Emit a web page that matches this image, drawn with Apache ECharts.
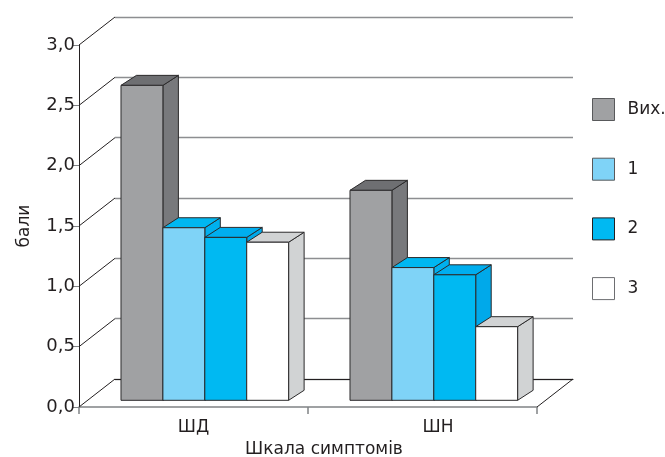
<!DOCTYPE html>
<html>
<head>
<meta charset="utf-8">
<script src="https://cdn.jsdelivr.net/npm/echarts@6/dist/echarts.min.js"></script>
<style>
  html, body { margin: 0; padding: 0; background: #fff; }
  #chart { width: 665px; height: 457px; }
</style>
</head>
<body>
<div id="chart"></div>
<script>
// Data
const categories = ['ШД', 'ШН'];
const seriesNames = ['Вих.', '1', '2', '3'];
const valuesVyh = [2.61, 1.74];
const values1 = [1.43, 1.10];
const values2 = [1.35, 1.04];
const values3 = [1.31, 0.61];
const yTicks = [0, 0.5, 1, 1.5, 2, 2.5, 3];

// Pseudo-3D geometry (pixels)
const WALL_DX = 36, WALL_DY = -28;      // depth of the back wall
const BAR_SHIFT_X = 11.3, BAR_SHIFT_Y = -6.7; // bars sit slightly behind the front plane
const BAR_DX = 15.5, BAR_DY = -10;      // depth of each bar
const BAR_FRACTION = 0.183;             // bar width as share of category band
const OUTLINE = '#2b2a2b';
const FONT = 'DejaVu Sans';

const palettes = [
  { front: '#a0a1a3', top: '#6e6f72', side: '#78797c', legendBorder: '#58595b' },
  { front: '#7fd3f7', top: '#00b7f1', side: '#00b0ee', legendBorder: '#58595b' },
  { front: '#00b9f2', top: '#00aeef', side: '#00a9ea', legendBorder: '#231f20' },
  { front: '#ffffff', top: '#d1d3d4', side: '#d1d3d4', legendBorder: '#6d6e71' }
];
const seriesValues = [valuesVyh, values1, values2, values3];

function barRenderer(k, pal) {
  return function (params, api) {
    const ci = api.value(0);
    const v = api.value(1);
    const base = api.coord([ci, 0]);
    const top = api.coord([ci, v]);
    const band = api.size([1, 0])[0];
    const w = band * BAR_FRACTION;
    const x0 = base[0] + BAR_SHIFT_X + (k - 2) * w;
    const x1 = x0 + w;
    const yb = base[1] + BAR_SHIFT_Y;
    const yt = top[1] + BAR_SHIFT_Y;
    const stroke = { stroke: OUTLINE, lineWidth: 1, lineJoin: 'round' };
    return {
      type: 'group',
      children: [
        {
          type: 'polygon',
          shape: { points: [[x1, yt], [x1 + BAR_DX, yt + BAR_DY], [x1 + BAR_DX, yb + BAR_DY], [x1, yb]] },
          style: Object.assign({ fill: pal.side }, stroke)
        },
        {
          type: 'polygon',
          shape: { points: [[x0, yt], [x1, yt], [x1 + BAR_DX, yt + BAR_DY], [x0 + BAR_DX, yt + BAR_DY]] },
          style: Object.assign({ fill: pal.top }, stroke)
        },
        {
          type: 'rect',
          shape: { x: x0, y: yt, width: w, height: yb - yt },
          style: Object.assign({ fill: pal.front }, stroke)
        }
      ]
    };
  };
}

// Diagonal edges joining the front axis ticks to the back wall
function wallEdgeRenderer(params, api) {
  const v = api.value(0);
  const cs = params.coordSys;
  const y = api.coord([0, v])[1];
  const lineStyle = { stroke: '#231f20', lineWidth: 1 };
  const children = [{
    type: 'line',
    shape: { x1: cs.x, y1: y, x2: cs.x + WALL_DX, y2: y + WALL_DY },
    style: lineStyle
  }];
  if (v === 0) {
    children.push({
      type: 'line',
      shape: { x1: cs.x + cs.width, y1: y, x2: cs.x + cs.width + WALL_DX, y2: y + WALL_DY },
      style: lineStyle
    });
  }
  return { type: 'group', children: children };
}

const chart = echarts.init(document.getElementById('chart'), null, { renderer: 'canvas' });

const barSeries = seriesNames.map(function (name, k) {
  return {
    name: name,
    type: 'custom',
    xAxisIndex: 0,
    yAxisIndex: 0,
    z: 3 + k,
    renderItem: barRenderer(k, palettes[k]),
    itemStyle: { color: palettes[k].front, borderColor: palettes[k].legendBorder, borderWidth: 1 },
    encode: { x: 0, y: 1 },
    data: seriesValues[k].map(function (v, i) { return [i, v]; })
  };
});

const option = {
  animation: false,
  backgroundColor: '#ffffff',
  textStyle: { fontFamily: FONT },
  grid: [
    { left: 79, top: 45, width: 458, height: 362, containLabel: false, outerBoundsMode: 'none' },
    { left: 79 + WALL_DX, top: 45 + WALL_DY, width: 458, height: 362, containLabel: false, outerBoundsMode: 'none' }
  ],
  xAxis: [
    {
      type: 'category',
      gridIndex: 0,
      data: categories,
      boundaryGap: true,
      axisLine: { lineStyle: { color: '#808285', width: 1.5 } },
      axisTick: { show: true, length: 7, lineStyle: { color: '#808285', width: 1.5 } },
      axisLabel: {
        margin: 12,
        fontSize: 17,
        color: '#231f20',
        fontFamily: FONT,
        formatter: function (v, i) { return i === 1 ? '{b|' + v + '}' : '{a|' + v + '}'; },
        rich: {
          a: { fontSize: 17, color: '#231f20', fontFamily: FONT },
          b: { fontSize: 17, color: '#231f20', fontFamily: FONT, padding: [0, 0, 0, 31] }
        }
      },
      name: 'Шкала симптомів',
      nameLocation: 'middle',
      nameGap: 33,
      nameTextStyle: { fontSize: 17, color: '#231f20', fontFamily: FONT, padding: [0, 0, 0, 32] }
    },
    {
      type: 'category',
      gridIndex: 1,
      data: categories,
      axisLine: { lineStyle: { color: '#231f20', width: 1 } },
      axisTick: { show: false },
      axisLabel: { show: false }
    }
  ],
  yAxis: [
    {
      type: 'value',
      gridIndex: 0,
      min: 0,
      max: 3,
      interval: 0.5,
      axisLine: { show: true, lineStyle: { color: '#231f20', width: 1 } },
      axisTick: { show: true, length: 7, lineStyle: { color: '#808285', width: 1 } },
      splitLine: { show: false },
      axisLabel: {
        margin: 4,
        fontSize: 18,
        color: '#231f20',
        fontFamily: FONT,
        formatter: function (v) { return yTicks.indexOf(v) >= 0 ? v.toFixed(1).replace('.', ',') : ''; }
      },
      name: 'бали',
      nameLocation: 'middle',
      nameGap: 46,
      nameRotate: 90,
      nameTextStyle: { fontSize: 17, color: '#231f20', fontFamily: FONT }
    },
    {
      type: 'value',
      gridIndex: 1,
      min: 0,
      max: 3,
      interval: 0.5,
      axisLine: { show: false },
      axisTick: { show: false },
      axisLabel: { show: false },
      splitLine: { show: true, lineStyle: { color: '#8d8e91', width: 1.3 } }
    }
  ],
  legend: {
    orient: 'vertical',
    left: 592,
    top: 98,
    padding: 0,
    itemWidth: 22,
    itemHeight: 22,
    itemGap: 36.7,
    icon: 'rect',
    textStyle: { fontSize: 17, color: '#231f20', fontFamily: FONT, padding: [0, 0, 0, 8] },
    data: seriesNames.map(function (name, k) {
      return {
        name: name,
        itemStyle: { color: palettes[k].front, borderColor: palettes[k].legendBorder, borderWidth: 1 }
      };
    })
  },
  series: [
    {
      type: 'custom',
      xAxisIndex: 0,
      yAxisIndex: 0,
      z: 1,
      silent: true,
      renderItem: wallEdgeRenderer,
      encode: { y: 0 },
      data: yTicks.map(function (t) { return [t]; })
    }
  ].concat(barSeries)
};

chart.setOption(option);
</script>
</body>
</html>
